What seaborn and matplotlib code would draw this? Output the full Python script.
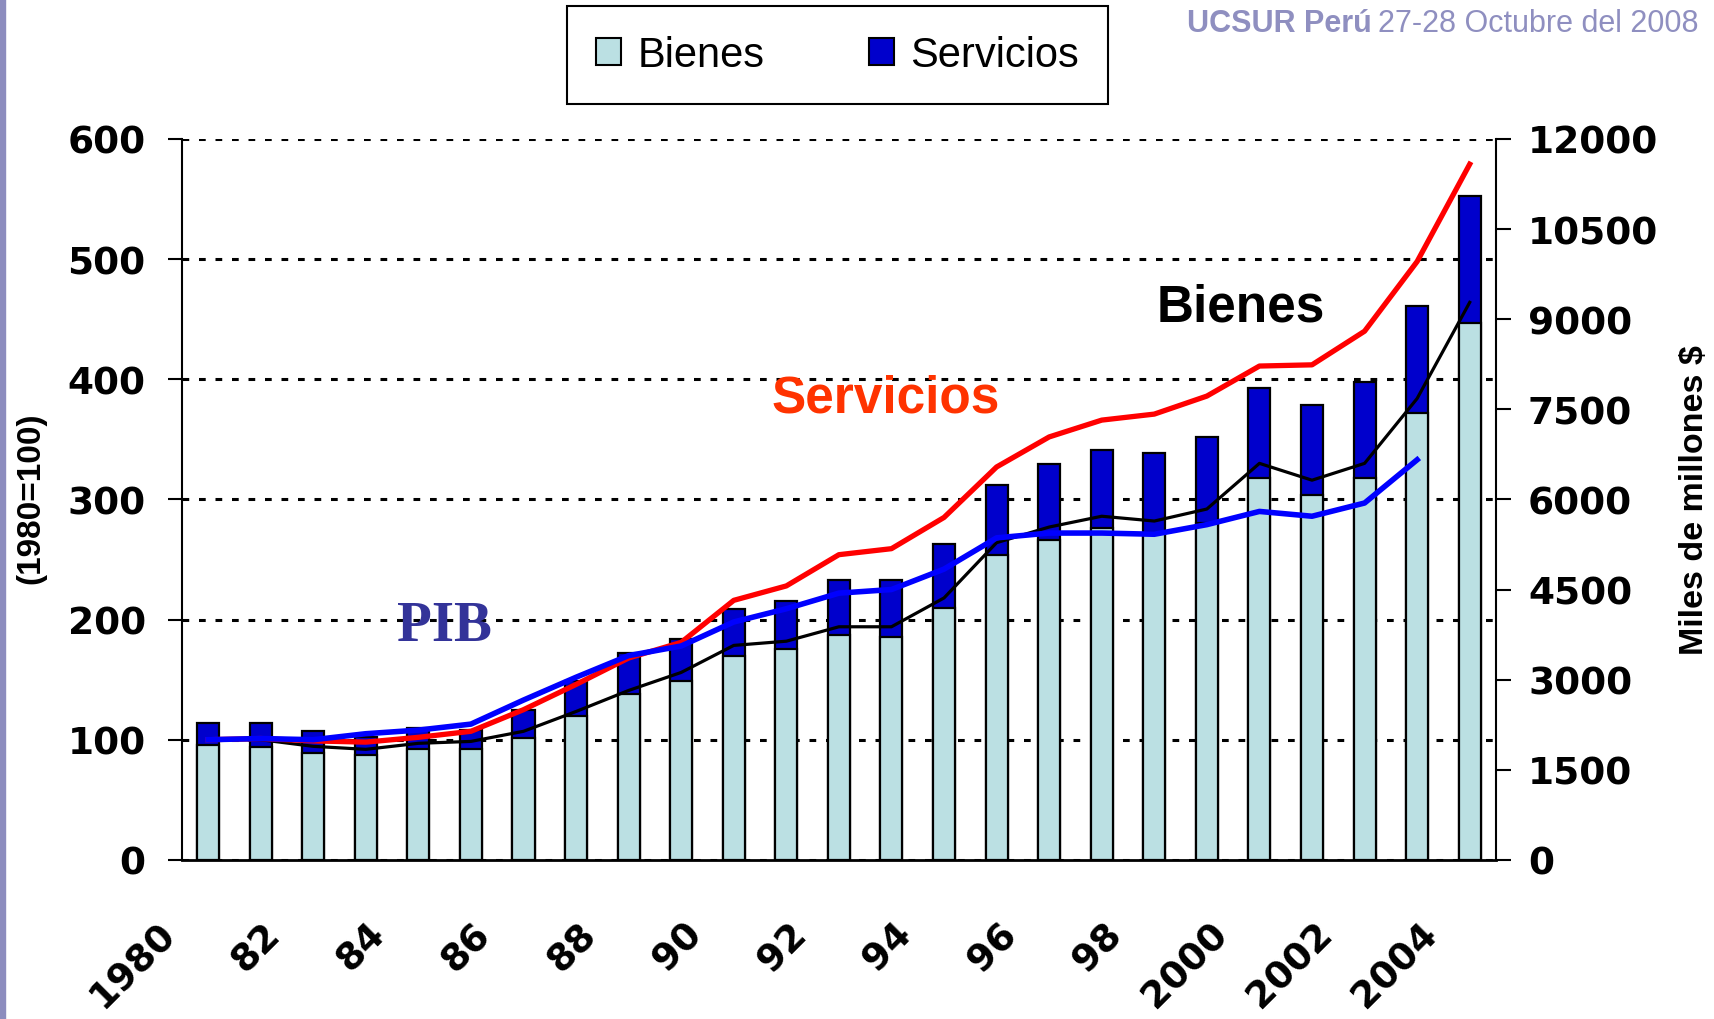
import matplotlib
import numpy as np
import pandas as pd
import matplotlib.pyplot as plt
import seaborn as sns
from matplotlib.patches import Patch, Rectangle
from matplotlib.ticker import MultipleLocator
from matplotlib.transforms import ScaledTranslation

matplotlib.use("Agg")

years = list(range(1980, 2005))
year_labels = ["1980", "82", "84", "86", "88", "90", "92", "94", "96", "98",
               "2000", "2002", "2004"]

# barras, miles de millones $ (eje derecho)
bienes_mm = [1920, 1885, 1780, 1745, 1850, 1850, 2030, 2400, 2760, 2980,
             3390, 3510, 3740, 3710, 4190, 5075, 5320, 5525, 5440, 5600,
             6360, 6080, 6360, 7435, 8930]
servicios_mm = [365, 400, 370, 295, 350, 310, 470, 580, 680, 700,
                790, 805, 920, 950, 1070, 1165, 1275, 1305, 1340, 1440,
                1500, 1490, 1595, 1785, 2125]

# indices 1980=100 (eje izquierdo)
pib_idx = [100, 101, 100, 105, 108, 113, 133, 152, 170, 178,
           198, 209, 222, 225, 242, 268, 272, 272, 271, 279,
           290, 286, 297, 333, np.nan]
servicios_idx = [100, 101, 99, 98, 102, 107, 125, 146, 168, 181,
                 216, 228, 254, 259, 285, 327, 352, 366, 371, 386,
                 411, 412, 440, 498, 579]
bienes_idx = [100, 100, 94.5, 92, 97, 98.6, 107, 123.5, 141, 156,
              178.5, 182, 194, 194, 218, 264, 277, 286, 282, 292,
              330, 316, 330, 384, 464]

c_bienes = "#BBE0E3"
c_servicios = "#0000CC"
tick_font = {"family": "DejaVu Sans", "weight": "bold", "size": 27}

df = pd.DataFrame({"year": years, "bienes": bienes_mm, "servicios": servicios_mm})
df["total"] = df["bienes"] + df["servicios"]
pos = np.arange(len(years))

fig = plt.figure(figsize=(17.15, 10.2), dpi=100)
ax1 = fig.add_axes([0.106, 0.156, 0.7663, 0.7068])
ax2 = ax1.twinx()
ax1.set_zorder(2)
ax2.set_zorder(1)
ax1.patch.set_visible(False)

# barras apiladas
sns.barplot(data=df, x="year", y="total", color=c_servicios, saturation=1,
            width=0.42, edgecolor="black", linewidth=1.6, errorbar=None, ax=ax2)
sns.barplot(data=df, x="year", y="bienes", color=c_bienes, saturation=1,
            width=0.42, edgecolor="black", linewidth=1.6, errorbar=None, ax=ax2)

ax2.set_ylim(0, 12000)
ax2.set_yticks(range(0, 12001, 1500))
ax2.yaxis.remove_overlapping_locs = False
ax2.yaxis.set_minor_locator(MultipleLocator(2000))
ax2.set_axisbelow(True)
ax2.grid(False)
ax2.grid(which="minor", axis="y", color="black", linestyle=(0, (2.2, 3.2)), linewidth=2.2)
ax2.tick_params(axis="y", which="minor", length=0)
ax2.tick_params(axis="y", which="major", direction="out", length=11, width=1.5,
                pad=12, right=True, left=False)
for lab in ax2.get_yticklabels():
    lab.set_fontproperties(tick_font)
ax2.set_ylabel("")
ax2.set_xlabel("")
for s in ["top", "left", "bottom"]:
    ax2.spines[s].set_visible(False)
ax2.spines["right"].set_linewidth(1.5)

# lineas de indices
sns.lineplot(x=pos, y=bienes_idx, color="black", linewidth=2.3, ax=ax1)
sns.lineplot(x=pos, y=servicios_idx, color="#FF0000", linewidth=3.8, ax=ax1)
sns.lineplot(x=pos, y=pib_idx, color="#0000FF", linewidth=4, ax=ax1)

ax1.set_xlim(-0.5, len(years) - 0.5)
ax1.set_ylim(0, 600)
ax1.set_yticks(range(0, 601, 100))
ax1.set_xticks(pos[::2])
ax1.set_xticklabels(year_labels, rotation=45, ha="right", va="top")
ax1.tick_params(axis="x", length=0, pad=40)
ax1.tick_params(axis="y", direction="out", length=10, width=1.5, pad=16)
for lab in ax1.get_yticklabels() + ax1.get_xticklabels():
    lab.set_fontproperties(tick_font)
offset = ScaledTranslation(-0.25, 0, fig.dpi_scale_trans)
for lab in ax1.get_xticklabels():
    lab.set_transform(lab.get_transform() + offset)
ax1.set_xlabel("")
ax1.set_ylabel("")
ax1.spines["top"].set_visible(False)
ax1.spines["right"].set_visible(False)
ax1.spines["left"].set_linewidth(1.5)
ax1.spines["bottom"].set_linewidth(2)

# etiquetas de las series
ax1.text(4.5, 195, "PIB", color="#333399", fontsize=41, fontweight="bold",
         family="Liberation Serif", ha="center", va="center")
ax1.text(12.9, 384, "Servicios", color="#FF3300", fontsize=37, fontweight="bold",
         family="Liberation Sans", ha="center", va="center")
ax1.text(19.65, 460, "Bienes", color="black", fontsize=37, fontweight="bold",
         family="Liberation Sans", ha="center", va="center")

# titulos de ejes
fig.text(0.0178, 0.512, "(1980=100)", rotation=90, ha="center", va="center",
         fontsize=24, fontweight="bold", family=["Liberation Sans Narrow", "Liberation Sans"])
fig.text(0.988, 0.51, "Miles de millones $", rotation=90, ha="center", va="center",
         fontsize=24.5, fontweight="bold", family=["Liberation Sans Narrow", "Liberation Sans"])

# leyenda
handles = [Patch(facecolor=c_bienes, edgecolor="black", linewidth=1.5),
           Patch(facecolor=c_servicios, edgecolor="black", linewidth=1.5)]
leg = fig.legend(handles, ["Bienes", "Servicios"], loc="center",
                 bbox_to_anchor=(0.4883, 0.945), ncol=2, frameon=True, fancybox=False,
                 edgecolor="black", framealpha=1, prop={"family": "Liberation Sans", "size": 30},
                 handlelength=0.6, handleheight=0.6, handletextpad=0.4,
                 columnspacing=2.5, borderpad=0.7)
leg.get_frame().set_linewidth(1.5)

# marca de la presentacion
mark = fig.text(0.692, 0.9765, "UCSUR Perú", color="#8F8FC0", fontsize=22, fontweight="bold",
                family="Liberation Sans", ha="left", va="center")
ax1.annotate("27-28 Octubre del 2008", xy=(1, 0), xycoords=mark, xytext=(5, 0),
             textcoords="offset points", ha="left", va="bottom", color="#8F8FC0",
             fontsize=22, family="Liberation Sans", annotation_clip=False)
fig.patches.append(Rectangle((0, 0), 5.5 / 1715, 1, transform=fig.transFigure,
                             color="#8C8CBE", zorder=0))

plt.savefig("out.png", dpi=100)
